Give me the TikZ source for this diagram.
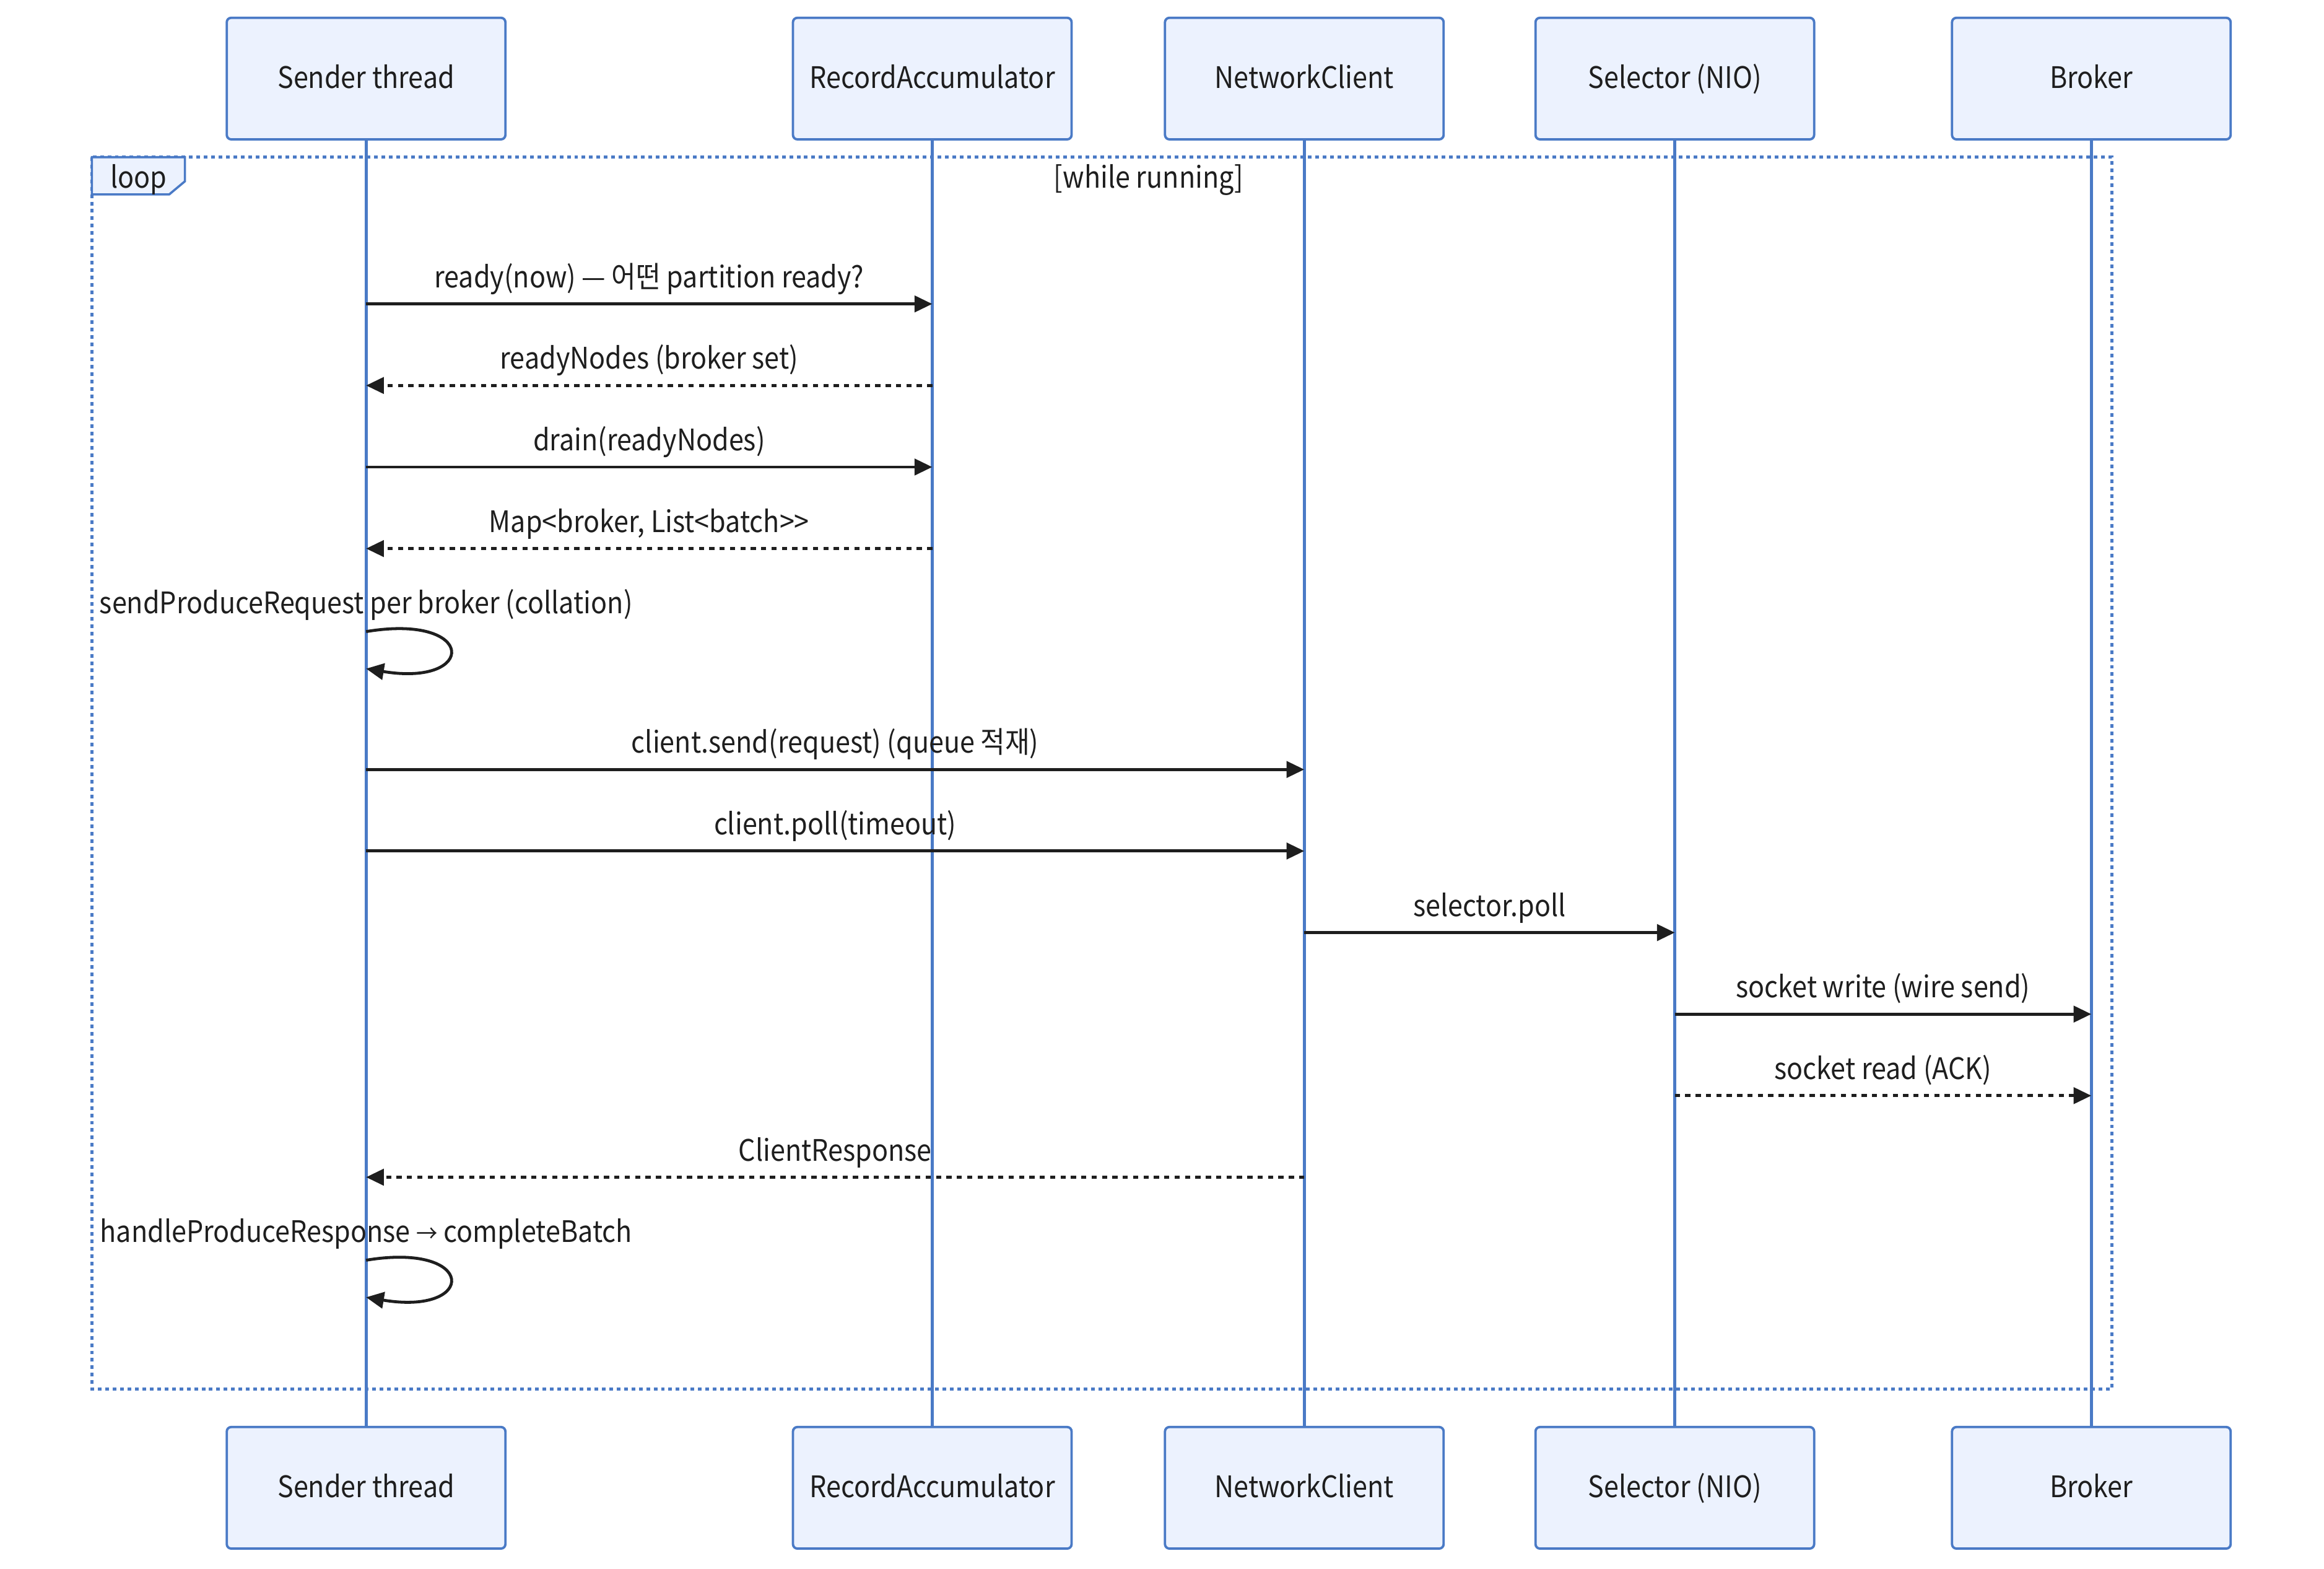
\documentclass[tikz,border=0pt]{standalone}
\usepackage{fontspec}
\setmainfont[FakeStretch=0.9]{Noto Sans CJK KR}
\usetikzlibrary{arrows.meta}
\definecolor{boxfill}{RGB}{236,242,254}
\definecolor{boxline}{RGB}{74,122,198}
\definecolor{ink}{RGB}{30,30,30}
\begin{document}
\begin{tikzpicture}[x=1pt,y=-1pt,
  actor/.style={draw=boxline, fill=boxfill, line width=1.6pt, rounded corners=3pt,
    minimum width=188pt, minimum height=82pt, inner sep=0pt,
    font=\fontsize{20}{24}\selectfont, text=ink, text height=13pt, text depth=0pt},
  life/.style={draw=boxline, line width=2pt},
  msg/.style={draw=ink, line width=2pt, -{Triangle[length=12pt,width=11pt]}},
  reply/.style={msg, dash pattern=on 3.5pt off 3.5pt},
  lbl/.style={font=\fontsize{20}{24}\selectfont, text=ink, anchor=base, inner sep=0pt},
  mlbl/.style={lbl, pos=0.5, yshift=11pt},
  loopframe/.style={draw=boxline, line width=2.2pt, dash pattern=on 2.5pt off 2.5pt}]
\useasboundingbox (0,0) rectangle (1568,1058);

% participants
\node[actor] (s1) at (247,53) {Sender thread};
\node[actor] (ra) at (629,53) {RecordAccumulator};
\node[actor] (nc) at (880,53) {NetworkClient};
\node[actor] (sel) at (1130,53) {Selector (NIO)};
\node[actor] (br) at (1411,53) {Broker};
\node[actor] (s1b) at (247,1003.5) {Sender thread};
\node[actor] (rab) at (629,1003.5) {RecordAccumulator};
\node[actor] (ncb) at (880,1003.5) {NetworkClient};
\node[actor] (selb) at (1130,1003.5) {Selector (NIO)};
\node[actor] (brb) at (1411,1003.5) {Broker};

% lifelines
\draw[life] (s1.south) -- (s1b.north);
\draw[life] (ra.south) -- (rab.north);
\draw[life] (nc.south) -- (ncb.north);
\draw[life] (sel.south) -- (selb.north);
\draw[life] (br.south) -- (brb.north);

% loop frame
\draw[loopframe] (62,106) rectangle (1425,937);
\draw[draw=boxline, fill=boxfill, line width=1.5pt]
  (62,106) -- (124.75,106) -- (124.75,122.3) -- (114.2,131.1) -- (62,131.1) -- cycle;
\node[lbl] (looplbl) at (93.5,127) {loop};
\node[lbl] (loopcond) at (775,127) {[while running]};

% rows
\coordinate (r1) at (0,205);
\coordinate (r2) at (0,260);
\coordinate (r3) at (0,315);
\coordinate (r4) at (0,370);
\coordinate (t5) at (0,414);
\coordinate (a5) at (0,426);
\coordinate (b5) at (0,451);
\coordinate (r6) at (0,519);
\coordinate (r7) at (0,574);
\coordinate (r8) at (0,629);
\coordinate (r9) at (0,684);
\coordinate (r10) at (0,739);
\coordinate (r11) at (0,794);
\coordinate (t12) at (0,838);
\coordinate (a12) at (0,850);
\coordinate (b12) at (0,875);

% messages
\draw[msg] (s1 |- r1) -- node[mlbl] {ready(now) — 어떤 partition ready?} (ra |- r1);
\draw[reply] (ra |- r2) -- node[mlbl] {readyNodes (broker set)} (s1 |- r2);
\draw[msg] (s1 |- r3) -- node[mlbl] {drain(readyNodes)} (ra |- r3);
\draw[reply] (ra |- r4) -- node[mlbl] {Map<broker, List<batch>{}>} (s1 |- r4);
\node[lbl] (m5) at (s1 |- t5) {sendProduceRequest per broker (collation)};
\draw[msg] (s1 |- a5) .. controls +(75,-12.5) and +(75,12.5) .. (s1 |- b5);
\draw[msg] (s1 |- r6) -- node[mlbl] {client.send(request) (queue 적재)} (nc |- r6);
\draw[msg] (s1 |- r7) -- node[mlbl] {client.poll(timeout)} (nc |- r7);
\draw[msg] (nc |- r8) -- node[mlbl] {selector.poll} (sel |- r8);
\draw[msg] (sel |- r9) -- node[mlbl] {socket write (wire send)} (br |- r9);
\draw[reply] (sel |- r10) -- node[mlbl] {socket read (ACK)} (br |- r10);
\draw[reply] (nc |- r11) -- node[mlbl] {ClientResponse} (s1 |- r11);
\node[lbl] (m12) at (s1 |- t12) {handleProduceResponse {\fontsize{16}{20}\selectfont →} completeBatch};
\draw[msg] (s1 |- a12) .. controls +(75,-12.5) and +(75,12.5) .. (s1 |- b12);
\end{tikzpicture}
\end{document}
